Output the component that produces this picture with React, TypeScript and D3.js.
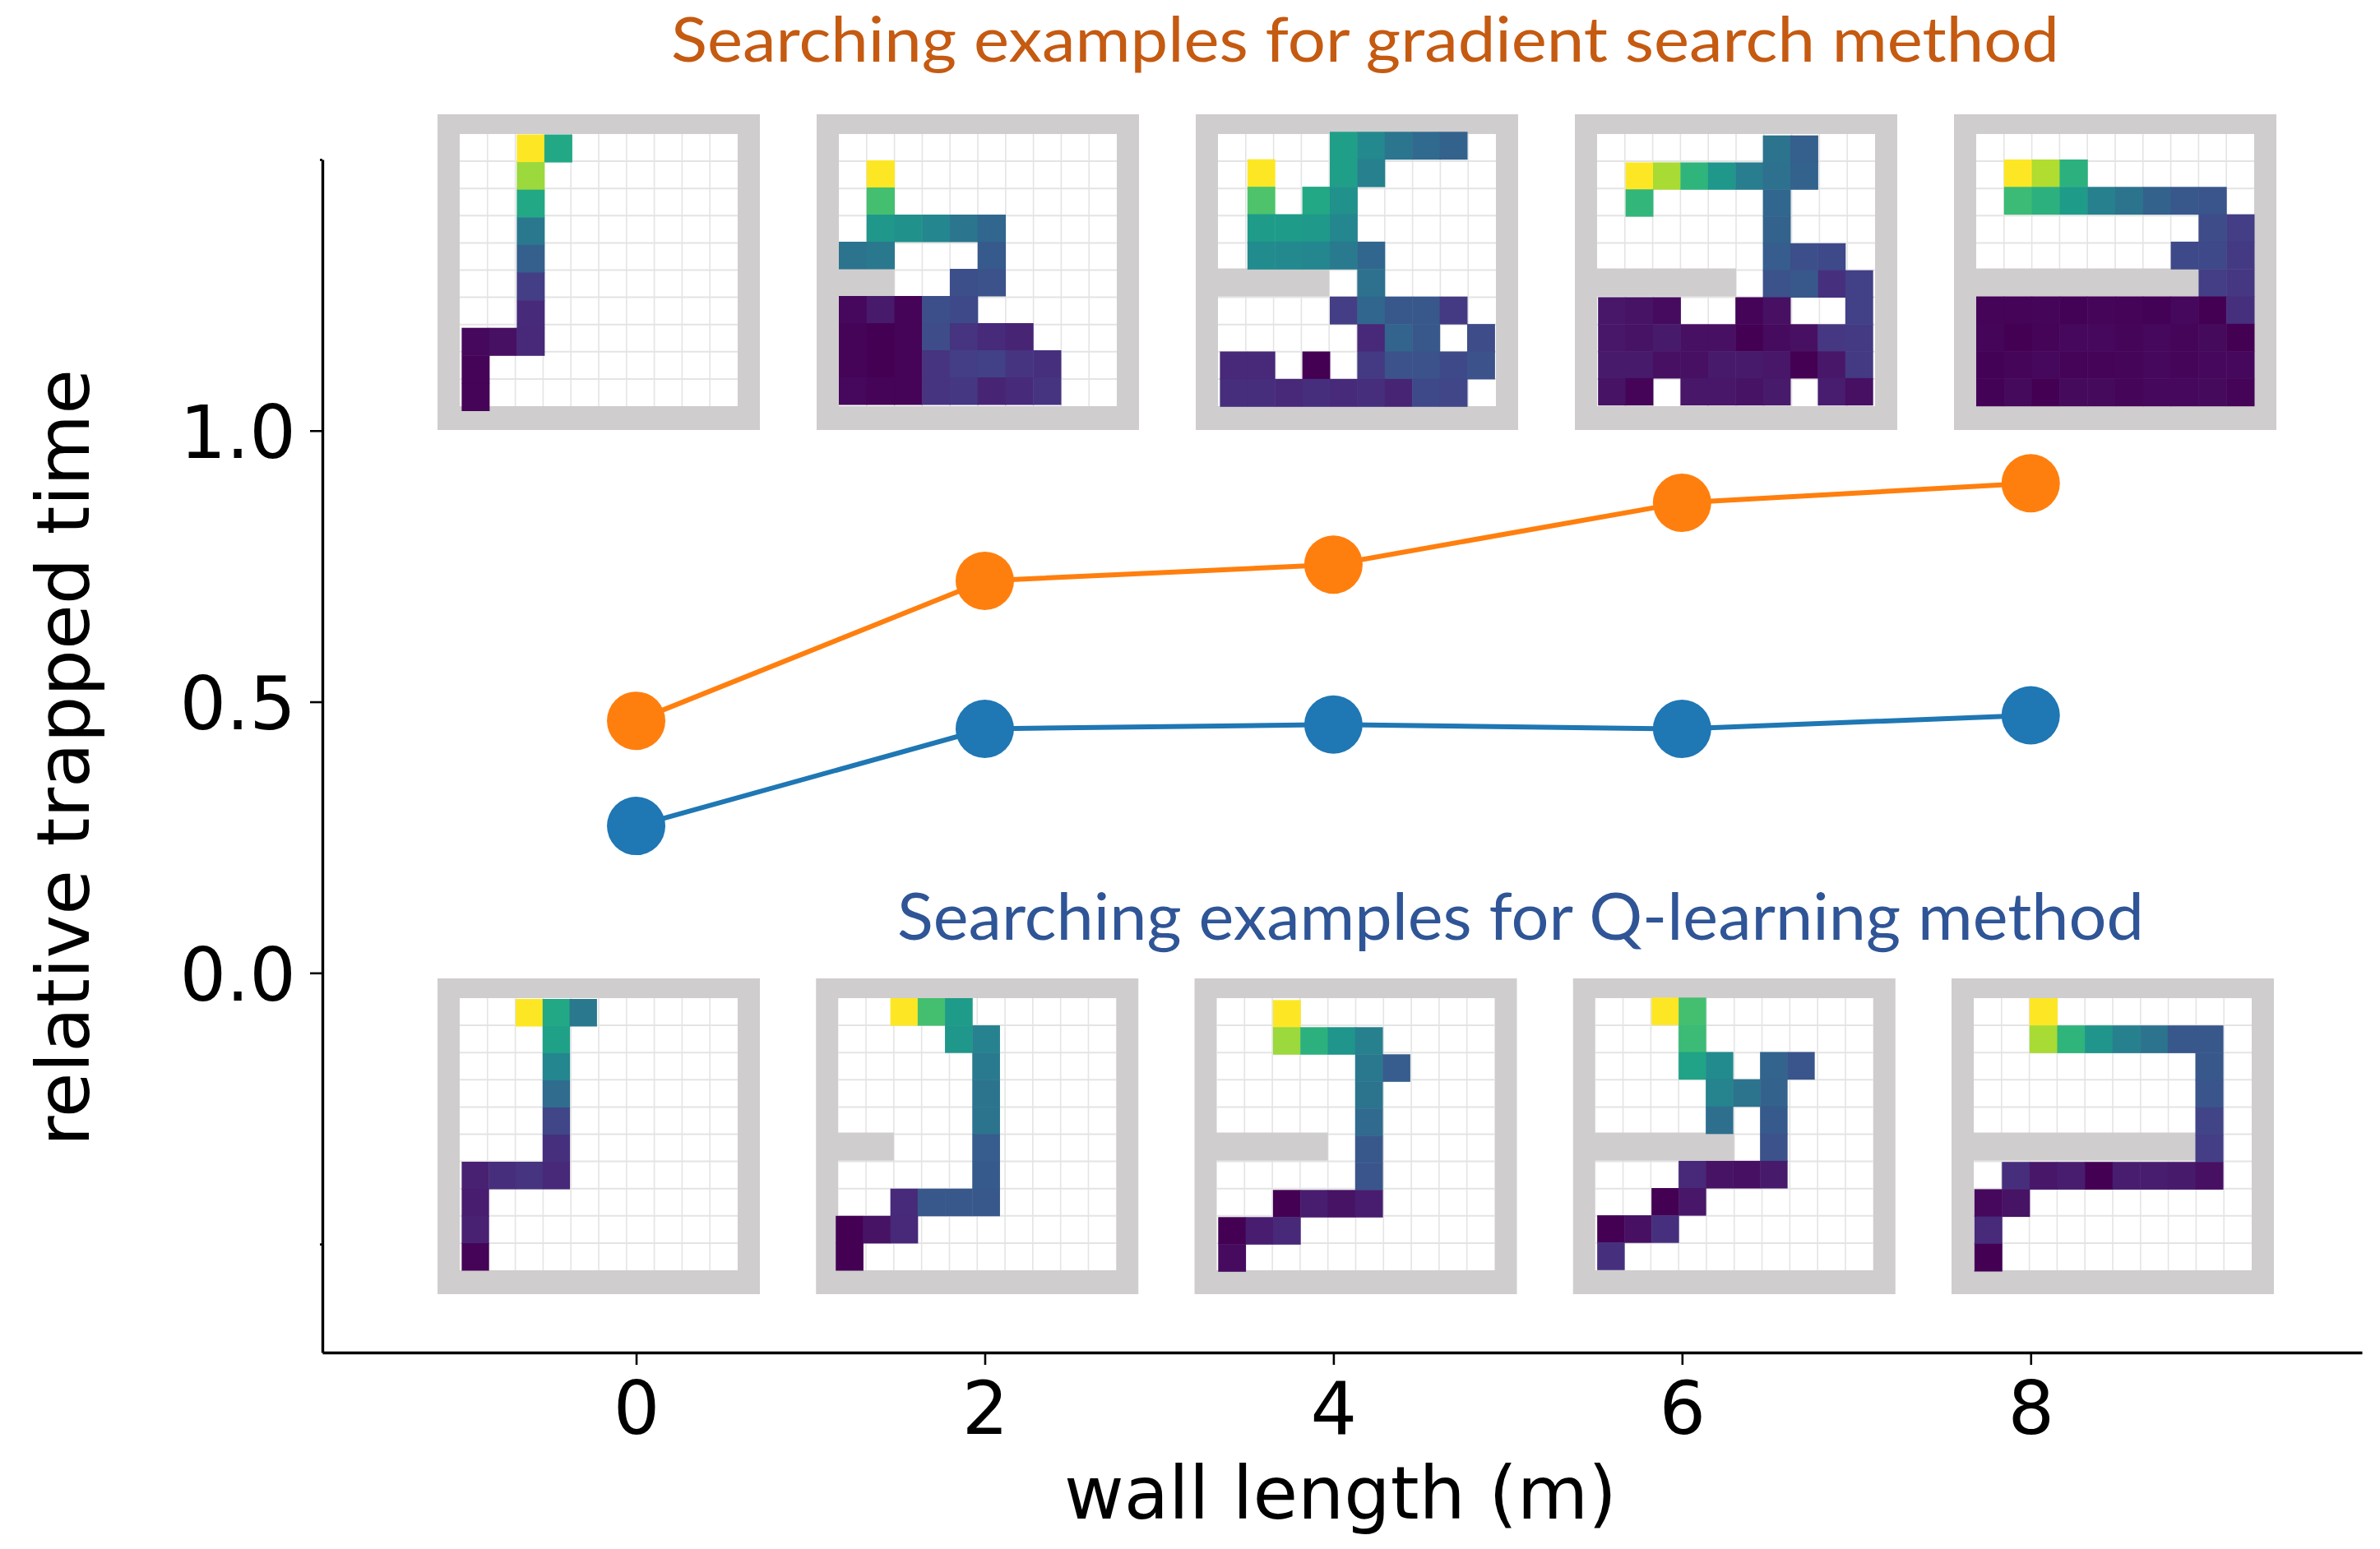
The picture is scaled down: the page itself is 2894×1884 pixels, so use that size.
import { useEffect, useRef } from 'react';
import * as d3 from 'd3';

type Cell = number | null;
const _ = null;

const wallLengths = [0, 2, 4, 6, 8];
const xTicks = [0, 2, 4, 6, 8];
const yTicks = [-0.5, 0, 0.5, 1, 1.5];
const yTickLabels = [0, 0.5, 1];
const gradientTrapped = [0.465, 0.723, 0.753, 0.867, 0.903];
const qlearningTrapped = [0.271, 0.45, 0.458, 0.45, 0.475];
// how many grid columns the wall covers in each map
const wallCells = [0, 2, 4, 5, 8];

const gradientMap0: Cell[][] = [
  [_, _, 1, .6, _, _, _, _, _, _],
  [_, _, .85, _, _, _, _, _, _, _],
  [_, _, .6, _, _, _, _, _, _, _],
  [_, _, .4, _, _, _, _, _, _, _],
  [_, _, .3, _, _, _, _, _, _, _],
  [_, _, .18, _, _, _, _, _, _, _],
  [_, _, .12, _, _, _, _, _, _, _],
  [.02, .04, .11, _, _, _, _, _, _, _],
  [.01, _, _, _, _, _, _, _, _, _],
  [.01, _, _, _, _, _, _, _, _, _],
];
const gradientMap2: Cell[][] = [
  [_, _, _, _, _, _, _, _, _, _],
  [_, 1, _, _, _, _, _, _, _, _],
  [_, .7, _, _, _, _, _, _, _, _],
  [_, .53, .5, .46, .39, .33, _, _, _, _],
  [.38, .4, _, _, _, .28, _, _, _, _],
  [_, _, _, _, .24, .25, _, _, _, _],
  [.02, .07, .01, .24, .22, _, _, _, _, _],
  [.01, 0, .01, .23, .15, .12, .1, _, _, _],
  [.01, 0, .01, .15, .18, .19, .15, .14, _, _],
  [.02, .01, .01, .15, .16, .1, .12, .15, _, _],
];
const gradientMap4: Cell[][] = [
  [_, _, _, _, .56, .47, .39, .34, .31, _],
  [_, 1, _, _, .56, .43, _, _, _, _],
  [_, .72, _, .6, .5, _, _, _, _, _],
  [_, .55, .55, .54, .46, _, _, _, _, _],
  [_, .48, .47, .46, .41, .33, _, _, _, _],
  [_, _, _, _, _, .37, _, _, _, _],
  [_, _, _, _, .18, .33, .27, .27, .17, _],
  [_, _, _, _, _, .11, .32, .27, _, .23],
  [.11, .11, _, 0, _, .17, .25, .25, .22, .25],
  [.13, .13, .11, .13, .12, .13, .1, .22, .21, _],
];
const gradientMap6: Cell[][] = [
  [_, _, _, _, _, _, .38, .3, _, _],
  [_, 1, .87, .65, .53, .42, .37, .31, _, _],
  [_, .66, _, _, _, _, .33, _, _, _],
  [_, _, _, _, _, _, .31, _, _, _],
  [_, _, _, _, _, _, .29, .24, .22, _],
  [_, _, _, _, _, _, .25, .27, .14, .19],
  [.06, .05, .03, _, _, .01, .04, _, _, .19],
  [.06, .05, .07, .04, .04, 0, .03, .04, .16, .17],
  [.07, .07, .04, .04, .07, .07, .06, 0, .06, .17],
  [.05, .01, _, .06, .06, .05, .07, _, .08, .04],
];
const gradientMap8: Cell[][] = [
  [_, _, _, _, _, _, _, _, _, _],
  [_, 1, .88, .64, _, _, _, _, _, _],
  [_, .68, .64, .55, .43, .38, .31, .27, .26, _],
  [_, _, _, _, _, _, _, _, .23, .18],
  [_, _, _, _, _, _, _, .22, .22, .17],
  [_, _, _, _, _, _, _, _, .18, .16],
  [.01, .01, .015, .005, .015, .01, .005, .02, 0, .14],
  [.015, 0, .01, .02, .02, .015, .02, .015, .025, 0],
  [.005, .015, .02, .01, .01, .015, .02, .015, .02, .02],
  [.005, .025, 0, .025, .025, .015, .02, .02, .025, .01],
];

const qlearningMap0: Cell[][] = [
  [_, _, 1, .6, .4, _, _, _, _, _],
  [_, _, _, .57, _, _, _, _, _, _],
  [_, _, _, .46, _, _, _, _, _, _],
  [_, _, _, .35, _, _, _, _, _, _],
  [_, _, _, .21, _, _, _, _, _, _],
  [_, _, _, .14, _, _, _, _, _, _],
  [.09, .13, .15, .11, _, _, _, _, _, _],
  [.08, _, _, _, _, _, _, _, _, _],
  [.09, _, _, _, _, _, _, _, _, _],
  [.01, _, _, _, _, _, _, _, _, _],
];
const qlearningMap2: Cell[][] = [
  [_, _, 1, .7, .55, _, _, _, _, _],
  [_, _, _, _, .53, .44, _, _, _, _],
  [_, _, _, _, _, .41, _, _, _, _],
  [_, _, _, _, _, .38, _, _, _, _],
  [_, _, _, _, _, .38, _, _, _, _],
  [_, _, _, _, _, .29, _, _, _, _],
  [_, _, _, _, _, .28, _, _, _, _],
  [_, _, .12, .27, .27, .27, _, _, _, _],
  [0, .05, .11, _, _, _, _, _, _, _],
  [0, _, _, _, _, _, _, _, _, _],
];
const qlearningMap4: Cell[][] = [
  [_, _, 1, _, _, _, _, _, _, _],
  [_, _, .85, .64, .52, .43, _, _, _, _],
  [_, _, _, _, _, .4, .29, _, _, _],
  [_, _, _, _, _, .38, _, _, _, _],
  [_, _, _, _, _, .34, _, _, _, _],
  [_, _, _, _, _, .27, _, _, _, _],
  [_, _, _, _, _, .26, _, _, _, _],
  [_, _, 0, .08, .05, .08, _, _, _, _],
  [0, .08, .11, _, _, _, _, _, _, _],
  [.03, _, _, _, _, _, _, _, _, _],
];
const qlearningMap6: Cell[][] = [
  [_, _, 1, .7, _, _, _, _, _, _],
  [_, _, _, .68, _, _, _, _, _, _],
  [_, _, _, .58, .48, _, .32, .26, _, _],
  [_, _, _, _, .45, .38, .31, _, _, _],
  [_, _, _, _, .36, _, .28, _, _, _],
  [_, _, _, _, _, _, .25, _, _, _],
  [_, _, _, .11, .05, .04, .07, _, _, _],
  [_, _, 0, .06, _, _, _, _, _, _],
  [0, .04, .14, _, _, _, _, _, _, _],
  [.14, _, _, _, _, _, _, _, _, _],
];
const qlearningMap8: Cell[][] = [
  [_, _, 1, _, _, _, _, _, _, _],
  [_, _, .87, .65, .52, .43, .38, .27, .27, _],
  [_, _, _, _, _, _, _, _, .27, _],
  [_, _, _, _, _, _, _, _, .26, _],
  [_, _, _, _, _, _, _, _, .2, _],
  [_, _, _, _, _, _, _, _, .18, _],
  [_, .13, .06, .08, 0, .08, .08, .07, .04, _],
  [.02, .05, _, _, _, _, _, _, _, _],
  [.12, _, _, _, _, _, _, _, _, _],
  [0, _, _, _, _, _, _, _, _, _],
];

const gradientMaps = [gradientMap0, gradientMap2, gradientMap4, gradientMap6, gradientMap8];
const qlearningMaps = [qlearningMap0, qlearningMap2, qlearningMap4, qlearningMap6, qlearningMap8];

// the heat layer does not sit exactly on the drawn grid: [dx, dy, width, height]
const gradientFrames = [
  [2.4, 0.5, 335, 336],
  [0, -1, 337.5, 330],
  [2.4, -2.7, 334, 334],
  [1.2, 1.7, 334, 328],
  [0, -2.3, 338, 333],
];
const qlearningFrames = [
  [2.4, 1, 328, 330],
  [-3, 0, 332, 331],
  [1.8, 2.3, 333, 330],
  [2.4, -0.7, 330, 331],
  [0.7, 0, 336, 332],
];

const W = 2894;
const H = 1884;
const GREY = '#cfcdce';

const App = () => {
  const svgRef = useRef<SVGSVGElement>(null);

  useEffect(() => {
    const svg = d3.select(svgRef.current);
    svg.selectAll('*').remove();

    const x = d3.scaleLinear().domain([-1.8, 9.9]).range([392, 2872]);
    const y = d3.scaleLinear().domain([1.5, -0.7]).range([194, 1645]);

    // axes
    const xAxis = svg.append('g')
      .attr('transform', `translate(0,${y(-0.7)})`)
      .call(d3.axisBottom(x).tickValues(xTicks).tickSize(15).tickSizeOuter(0).tickFormat(d3.format('d')));
    const yAxis = svg.append('g')
      .attr('transform', `translate(${x(-1.8)},0)`)
      .call(d3.axisLeft(y).tickValues(yTicks).tickSize(15).tickSizeOuter(0)
        .tickFormat(d => (yTickLabels.includes(+d) ? d3.format('.1f')(+d) : '')));

    [xAxis, yAxis].forEach(a => {
      a.select('.domain').attr('stroke', '#000').attr('stroke-width', 3.4);
      a.selectAll('.tick line').attr('stroke', '#000').attr('stroke-width', 2.6);
      a.selectAll('.tick text')
        .attr('fill', '#000')
        .style('font-family', '"DejaVu Sans"')
        .style('font-size', '89px');
    });
    xAxis.selectAll('.tick text').attr('y', 0).attr('dy', 0)
      .attr('transform', 'translate(0,99)');
    yAxis.selectAll('.tick text').attr('x', -32).attr('dy', 33);
    // -0.5 and 1.5 sit behind the inset maps, only a stub shows
    yAxis.selectAll<SVGLineElement, number>('.tick line')
      .attr('x2', d => (yTickLabels.includes(d) ? -15 : -3));

    // lines
    const series = [
      { values: qlearningTrapped, color: '#1f77b4' },
      { values: gradientTrapped, color: '#ff7f0e' },
    ];
    const line = d3.line<number>()
      .x((_d, i) => x(wallLengths[i]))
      .y(d => y(d));
    series.forEach(s => {
      svg.append('path')
        .attr('d', line(s.values))
        .attr('fill', 'none')
        .attr('stroke', s.color)
        .attr('stroke-width', 6);
      svg.selectAll(null)
        .data(s.values)
        .join('circle')
        .attr('cx', (_d, i) => x(wallLengths[i]))
        .attr('cy', d => y(d))
        .attr('r', 35.5)
        .attr('fill', s.color);
    });

    // inset maps
    const drawMap = (cells: Cell[][], wall: number, frame: number[], px: number, py: number) => {
      const g = svg.append('g').attr('transform', `translate(${px},${py})`);
      g.append('rect').attr('width', 392).attr('height', 384).attr('fill', GREY);
      g.append('rect').attr('x', 27).attr('y', 24).attr('width', 338).attr('height', 331).attr('fill', '#fff');

      const cols = d3.scaleBand<number>().domain(d3.range(10)).range([27, 365]);
      const rows = d3.scaleBand<number>().domain(d3.range(10)).range([24, 355]);

      d3.range(1, 10).forEach(i => {
        g.append('line')
          .attr('x1', cols(i)!).attr('x2', cols(i)!).attr('y1', 24).attr('y2', 355)
          .attr('stroke', '#e4e4e4').attr('stroke-width', 1.6);
        g.append('line')
          .attr('x1', 27).attr('x2', 365).attr('y1', rows(i)!).attr('y2', rows(i)!)
          .attr('stroke', '#e4e4e4').attr('stroke-width', 2);
      });

      if (wall > 0) {
        g.append('rect')
          .attr('x', 27 - 1)
          .attr('y', rows(5)! - 2)
          .attr('width', cols.bandwidth() * wall + 1)
          .attr('height', rows.bandwidth() + 1)
          .attr('fill', GREY);
      }

      const [dx, dy, fw, fh] = frame;
      const cellX = d3.scaleBand<number>().domain(d3.range(10)).range([27 + dx, 27 + dx + fw]);
      const cellY = d3.scaleBand<number>().domain(d3.range(10)).range([24 + dy, 24 + dy + fh]);
      const flat = cells.flatMap((row, r) => row.map((v, c) => ({ r, c, v })))
        .filter(d => d.v !== null);
      g.selectAll(null)
        .data(flat)
        .join('rect')
        .attr('x', d => cellX(d.c)!)
        .attr('y', d => cellY(d.r)!)
        .attr('width', cellX.bandwidth() + 0.5)
        .attr('height', cellY.bandwidth() + 0.5)
        .attr('fill', d => d3.interpolateViridis(d.v as number));
    };

    const topX = d3.scaleLinear().domain([0, 4]).range([532, 2376]);
    const bottomX = d3.scaleLinear().domain([0, 4]).range([532, 2373]);
    gradientMaps.forEach((m, i) => drawMap(m, wallCells[i], gradientFrames[i], topX(i), 139));
    qlearningMaps.forEach((m, i) => drawMap(m, wallCells[i], qlearningFrames[i], bottomX(i), 1190));

    // titles
    const label = (txt: string, tx: number, ty: number, len: number, fill: string, font: string, size: number, rotate = false) => {
      svg.append('text')
        .attr('x', tx)
        .attr('y', ty)
        .attr('transform', rotate ? `rotate(-90 ${tx} ${ty})` : null)
        .attr('textLength', len)
        .attr('lengthAdjust', 'spacingAndGlyphs')
        .attr('fill', fill)
        .style('font-family', font)
        .style('font-size', `${size}px`)
        .text(txt);
    };
    label('Searching examples for gradient search method', 816, 75, 1688, '#c55a11', 'Lato', 76);
    label('Searching examples for Q-learning method', 1091, 1143, 1516, '#2f5597', 'Lato', 80);
    label('wall length (m)', 1294, 1847, 672, '#000', '"DejaVu Sans"', 89);
    label('relative trapped time', 108, 1394, 945, '#000', '"DejaVu Sans"', 89, true);
  }, []);

  return (
    <svg
      ref={svgRef}
      width={W}
      height={H}
      style={{ position: 'absolute', left: 0, top: 0, background: '#fff' }}
    />
  );
};

export default App;
